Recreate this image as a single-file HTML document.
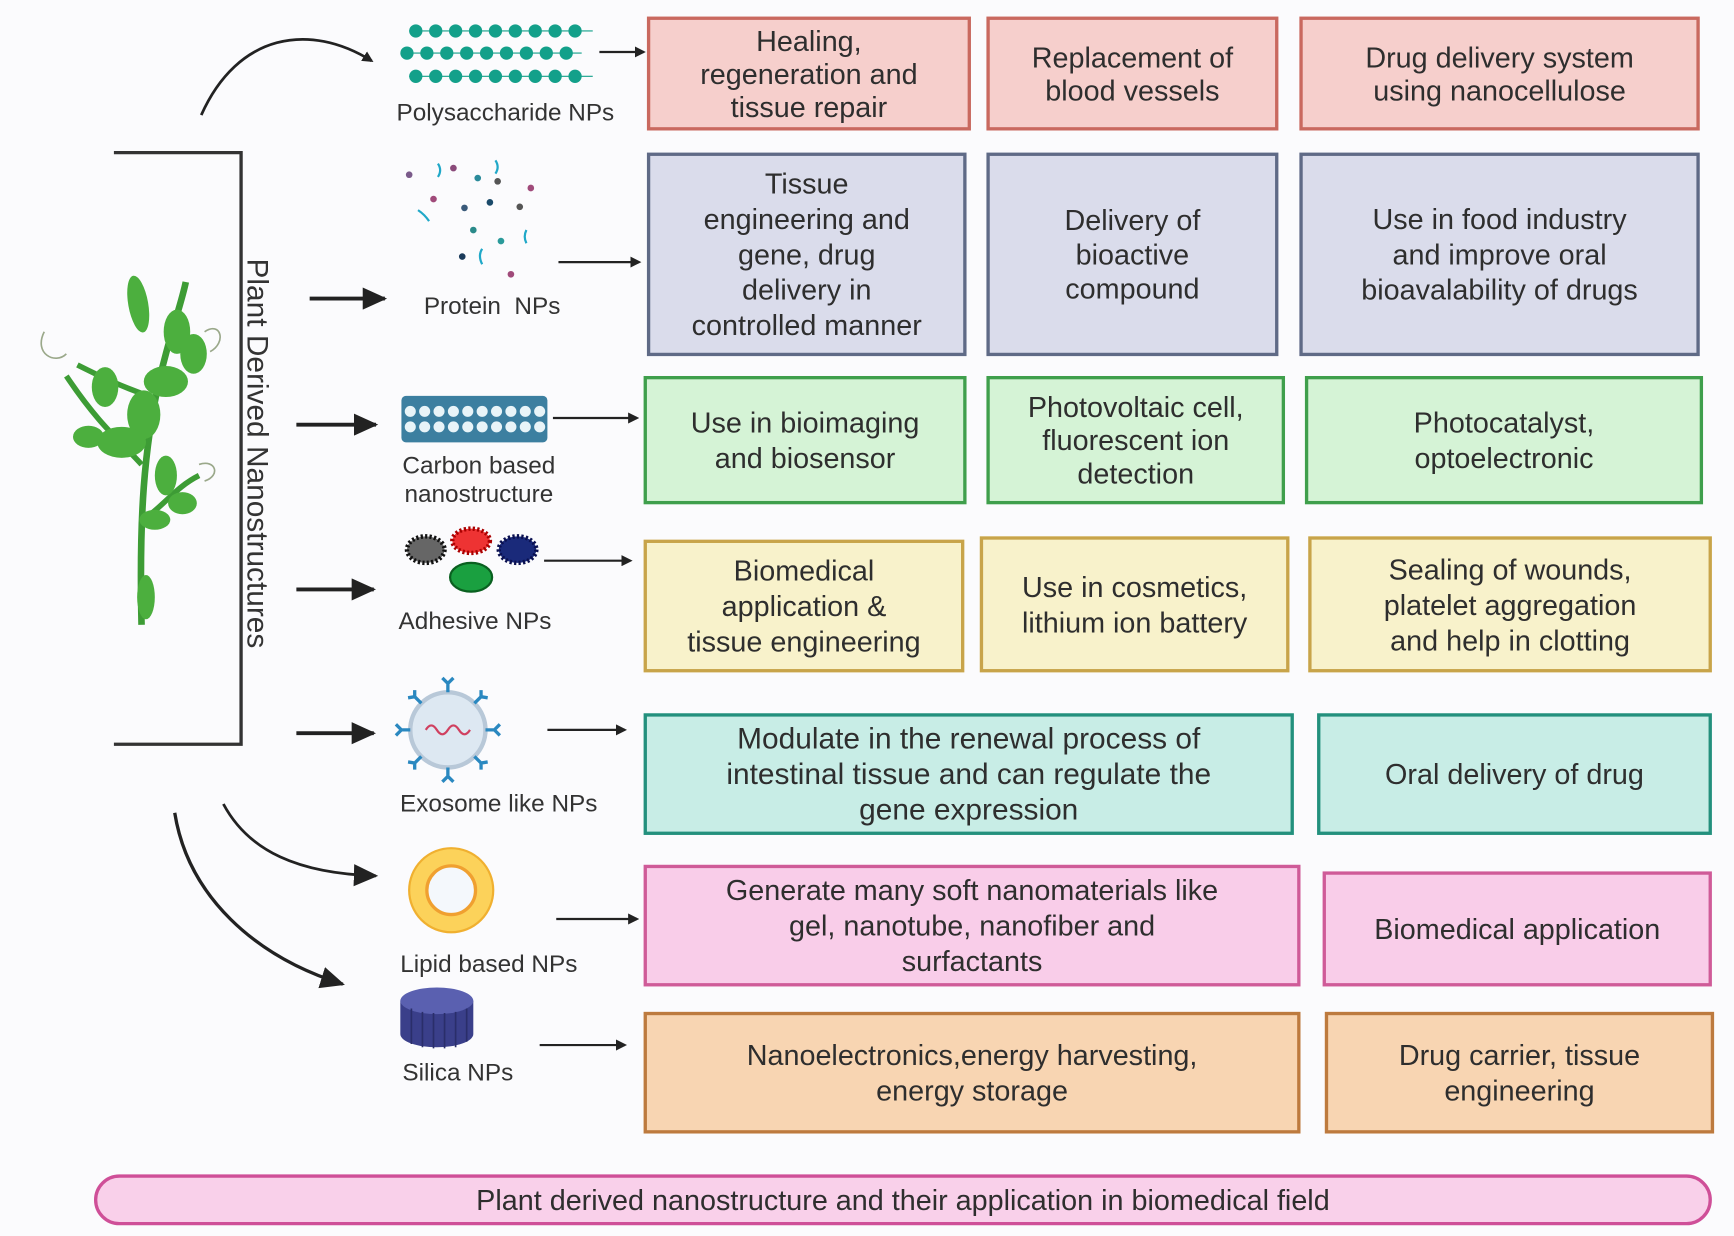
<!DOCTYPE html>
<html><head><meta charset="utf-8">
<style>
html,body{margin:0;padding:0;width:1734px;height:1236px;overflow:hidden;background:#fbfbfd;}
#w{position:absolute;left:0;top:0;width:1568px;height:1118px;transform:scale(1.10587);transform-origin:0 0;font-family:"Liberation Sans",sans-serif;}
.b{position:absolute;box-sizing:border-box;border:3px solid;display:flex;align-items:center;justify-content:center;text-align:center;font-size:26px;line-height:32px;color:#2e2e2e;padding:0 4px;white-space:nowrap;}
.r1{background:#f6cfcc;border-color:#c9695f}
.r2{background:#dadceb;border-color:#5f6a86}
.r3{background:#d5f3d6;border-color:#3f9f4c}
.r4{background:#f8f2cb;border-color:#c8a44a}
.r5{background:#c8ede6;border-color:#23907d}
.r6{background:#f9cde9;border-color:#cf5b98}
.r7{background:#f8d5b2;border-color:#bd7a3e}
.l{position:absolute;font-size:22px;color:#333;text-align:center;line-height:26px;white-space:nowrap;}
svg{position:absolute;left:0;top:0;}
</style></head><body><div id="w">
<svg width="1568" height="1118" viewBox="0 0 1568 1118">
<defs><marker id="a" markerWidth="10" markerHeight="10" refX="8" refY="5" orient="auto" markerUnits="userSpaceOnUse"><path d="M0,0 L10,5 L0,10 z" fill="#222"/></marker>
<marker id="A" markerWidth="24" markerHeight="20" refX="20" refY="10" orient="auto" markerUnits="userSpaceOnUse"><path d="M0,0 L22,10 L0,20 z" fill="#222"/></marker>
<g id="pr"><circle cx="0" cy="0" r="6"/><circle cx="18" cy="0" r="6"/><circle cx="36" cy="0" r="6"/><circle cx="54" cy="0" r="6"/><circle cx="72" cy="0" r="6"/><circle cx="90" cy="0" r="6"/><circle cx="108" cy="0" r="6"/><circle cx="126" cy="0" r="6"/><circle cx="144" cy="0" r="6"/></g>
<g id="cr"><circle cx="0" cy="0" r="5"/><circle cx="13" cy="0" r="5"/><circle cx="26" cy="0" r="5"/><circle cx="39" cy="0" r="5"/><circle cx="52" cy="0" r="5"/><circle cx="65" cy="0" r="5"/><circle cx="78" cy="0" r="5"/><circle cx="91" cy="0" r="5"/><circle cx="104" cy="0" r="5"/><circle cx="117" cy="0" r="5"/></g>
</defs>
<path d="M103,138 H218 V673 H103" fill="none" stroke="#333" stroke-width="3"/>
<g fill="#4caf3e" stroke="none">
<path d="M128,565 C126,480 128,400 150,320 C158,290 165,270 168,255" stroke="#3d9c35" stroke-width="6" fill="none"/>
<path d="M128,420 C110,400 90,385 60,340 M140,360 C110,350 90,340 70,330 M130,470 C150,455 160,440 180,430" stroke="#3d9c35" stroke-width="5" fill="none"/>
<ellipse cx="125" cy="275" rx="9" ry="26" transform="rotate(-10 125 275)"/>
<ellipse cx="160" cy="300" rx="12" ry="20"/>
<ellipse cx="175" cy="320" rx="12" ry="18"/>
<ellipse cx="150" cy="345" rx="20" ry="14"/>
<ellipse cx="130" cy="375" rx="15" ry="22"/>
<ellipse cx="95" cy="350" rx="12" ry="18"/>
<ellipse cx="110" cy="400" rx="22" ry="14"/>
<ellipse cx="80" cy="395" rx="14" ry="10"/>
<ellipse cx="150" cy="430" rx="10" ry="18"/>
<ellipse cx="165" cy="455" rx="13" ry="10"/>
<ellipse cx="140" cy="470" rx="14" ry="9"/>
<ellipse cx="132" cy="540" rx="8" ry="20"/>
</g>
<path d="M40,300 C30,320 50,330 60,320 M185,300 C200,290 205,310 190,318 M180,420 C195,415 200,430 185,435" stroke="#9aa88a" stroke-width="1.5" fill="none"/>
<text x="0" y="0" transform="translate(224,410) rotate(90)" text-anchor="middle" font-family="Liberation Sans" font-size="27" fill="#333">Plant Derived Nanostructures</text>
<path d="M182,104 C215,30 280,20 336,55" fill="none" stroke="#222" stroke-width="2.5" marker-end="url(#a)"/>
<path d="M280,270 H348" stroke="#222" stroke-width="3.5" marker-end="url(#A)"/>
<path d="M268,384 H340" stroke="#222" stroke-width="3.5" marker-end="url(#A)"/>
<path d="M268,533 H338" stroke="#222" stroke-width="3.5" marker-end="url(#A)"/>
<path d="M268,663 H338" stroke="#222" stroke-width="3.5" marker-end="url(#A)"/>
<path d="M202,727 C225,770 270,790 340,792" fill="none" stroke="#222" stroke-width="2.5" marker-end="url(#A)"/>
<path d="M158,735 C170,810 230,865 310,890" fill="none" stroke="#222" stroke-width="3" marker-end="url(#A)"/>
<path d="M542,47 H582" stroke="#222" stroke-width="2" marker-end="url(#a)"/>
<path d="M505,237 H578" stroke="#222" stroke-width="2" marker-end="url(#a)"/>
<path d="M500,378 H576" stroke="#222" stroke-width="2" marker-end="url(#a)"/>
<path d="M492,507 H570" stroke="#222" stroke-width="2" marker-end="url(#a)"/>
<path d="M495,660 H565" stroke="#222" stroke-width="2" marker-end="url(#a)"/>
<path d="M503,831 H576" stroke="#222" stroke-width="2" marker-end="url(#a)"/>
<path d="M488,945 H565" stroke="#222" stroke-width="2" marker-end="url(#a)"/>
<path d="M370,28 H536 M363,48 H526 M370,69 H536" stroke="#13a08a" stroke-width="1"/>
<g fill="#13a08a"><use href="#pr" x="376" y="28"/><use href="#pr" x="368" y="48"/><use href="#pr" x="376" y="69"/></g>
<g>
<circle cx="370" cy="158" r="3" fill="#7a5a8a"/><circle cx="410" cy="152" r="3" fill="#8a4a7a"/><circle cx="432" cy="161" r="3" fill="#2a8a9a"/><circle cx="450" cy="164" r="3" fill="#555"/><circle cx="480" cy="170" r="3" fill="#a04a7a"/><circle cx="392" cy="180" r="3" fill="#a04a7a"/><circle cx="420" cy="188" r="3" fill="#3a5a7a"/><circle cx="443" cy="183" r="3" fill="#1a4a6a"/><circle cx="470" cy="187" r="3" fill="#555"/><circle cx="428" cy="208" r="3" fill="#2a8a8a"/><circle cx="453" cy="218" r="3" fill="#2a9a9a"/><circle cx="418" cy="232" r="3" fill="#1a3a5a"/><circle cx="462" cy="248" r="3" fill="#a04a7a"/>
<path d="M396,148 q4,6 0,12 M448,145 q4,6 0,12 M378,190 q6,4 10,10 M476,208 q-3,6 0,12 M436,225 q-4,6 0,14" stroke="#20a8c8" stroke-width="2" fill="none"/>
</g>
<rect x="363" y="358" width="132" height="42" rx="4" fill="#3c7fa0"/>
<g fill="#e8f4f8"><use href="#cr" x="371" y="372"/><use href="#cr" x="371" y="386"/></g>
<ellipse cx="385" cy="497" rx="17" ry="12" fill="#666" stroke="#111" stroke-width="4" stroke-dasharray="2 2"/>
<ellipse cx="426" cy="489" rx="17" ry="11" fill="#e33" stroke="#a00" stroke-width="4" stroke-dasharray="2 2"/>
<ellipse cx="468" cy="497" rx="17" ry="12" fill="#1a2a7a" stroke="#0a1050" stroke-width="4" stroke-dasharray="2 2"/>
<ellipse cx="426" cy="522" rx="19" ry="13" fill="#1aa040" stroke="#0a6020" stroke-width="2"/>
<circle cx="405" cy="660" r="34" fill="#dde8f2" stroke="#b8c8d8" stroke-width="4"/>
<path d="M385,660 q5,-8 10,0 t10,0 t10,0 t10,0" stroke="#d04060" stroke-width="2" fill="none"/>
<g stroke="#2a88c0" stroke-width="3" fill="none">
<path d="M405,626 v-8 l-5,-5 M405,618 l5,-5"/><path d="M439,660 h8 l5,-5 M447,660 l5,5"/><path d="M371,660 h-8 l-5,-5 M363,660 l-5,5"/><path d="M405,694 v8 l-5,5 M405,702 l5,5"/><path d="M381,636 l-6,-6 l-6,1 M375,630 l0,-6"/><path d="M429,636 l6,-6 l6,1 M435,630 l0,-6"/><path d="M429,684 l6,6 l6,-1 M435,690 l0,6"/><path d="M381,684 l-6,6 l-6,-1 M375,690 l0,6"/>
</g>
<circle cx="408" cy="805" r="38" fill="#fcd25a" stroke="#f0b030" stroke-width="2"/>
<circle cx="408" cy="805" r="22" fill="#f4f8fc" stroke="#f0a030" stroke-width="3"/>
<path d="M362,905 v30 a33,12 0 0 0 66,0 v-30 z" fill="#3a3f8a"/>
<ellipse cx="395" cy="905" rx="33" ry="12" fill="#5a60b0"/>
<g stroke="#2a2e6a" stroke-width="1.5"><path d="M372,912 v32 M382,915 v32 M392,916 v32 M402,916 v32 M412,915 v32 M422,912 v30"/></g>
</svg>

<div class="l" style="left:347px;top:89px;width:220px">Polysaccharide NPs</div>
<div class="l" style="left:375px;top:264px;width:140px">Protein&nbsp; NPs</div>
<div class="l" style="left:353px;top:408px;width:160px">Carbon based<br>nanostructure</div>
<div class="l" style="left:352px;top:549px;width:155px">Adhesive NPs</div>
<div class="l" style="left:352px;top:714px;width:198px">Exosome like NPs</div>
<div class="l" style="left:352px;top:859px;width:180px">Lipid based NPs</div>
<div class="l" style="left:356px;top:957px;width:116px">Silica NPs</div>

<div class="b r1" style="left:585px;top:15px;width:293px;height:103px;line-height:30px">Healing,<br>regeneration and<br>tissue repair</div>
<div class="b r1" style="left:892px;top:15px;width:264px;height:103px;line-height:30px">Replacement of<br>blood vessels</div>
<div class="b r1" style="left:1175px;top:15px;width:362px;height:103px;line-height:30px">Drug delivery system<br>using nanocellulose</div>

<div class="b r2" style="left:585px;top:138px;width:289px;height:184px">Tissue<br>engineering and<br>gene, drug<br>delivery in<br>controlled manner</div>
<div class="b r2" style="left:892px;top:138px;width:264px;height:184px;line-height:31px">Delivery of<br>bioactive<br>compound</div>
<div class="b r2" style="left:1175px;top:138px;width:362px;height:184px">Use in food industry<br>and improve oral<br>bioavalability of drugs</div>

<div class="b r3" style="left:582px;top:340px;width:292px;height:116px">Use in bioimaging<br>and biosensor</div>
<div class="b r3" style="left:892px;top:340px;width:270px;height:116px;line-height:30px">Photovoltaic cell,<br>fluorescent ion<br>detection</div>
<div class="b r3" style="left:1180px;top:340px;width:360px;height:116px">Photocatalyst,<br>optoelectronic</div>

<div class="b r4" style="left:582px;top:488px;width:290px;height:120px">Biomedical<br>application &amp;<br>tissue engineering</div>
<div class="b r4" style="left:886px;top:485px;width:280px;height:123px">Use in cosmetics,<br>lithium ion battery</div>
<div class="b r4" style="left:1183px;top:485px;width:365px;height:123px">Sealing of wounds,<br>platelet aggregation<br>and help in clotting</div>

<div class="b r5" style="left:582px;top:645px;width:588px;height:110px;font-size:27px">Modulate in the renewal process of<br>intestinal tissue and can regulate the<br>gene expression</div>
<div class="b r5" style="left:1191px;top:645px;width:357px;height:110px">Oral delivery of drug</div>

<div class="b r6" style="left:582px;top:782px;width:594px;height:110px">Generate many soft nanomaterials like<br>gel, nanotube, nanofiber and<br>surfactants</div>
<div class="b r6" style="left:1196px;top:788px;width:352px;height:104px">Biomedical application</div>

<div class="b r7" style="left:582px;top:915px;width:594px;height:110px">Nanoelectronics,energy harvesting,<br>energy storage</div>
<div class="b r7" style="left:1198px;top:915px;width:352px;height:110px">Drug carrier, tissue<br>engineering</div>

<div class="b" style="left:85px;top:1062px;width:1463px;height:46px;border-radius:23px;background:#f9d0ea;border-color:#cf4f98">Plant derived nanostructure and their application in biomedical field</div>
</div></body></html>
